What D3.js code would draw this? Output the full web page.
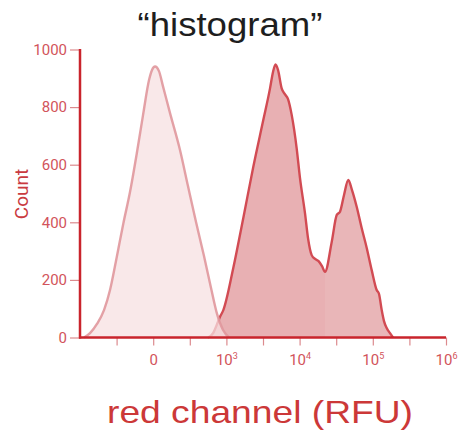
<!DOCTYPE html>
<html>
<head>
<meta charset="utf-8">
<script src="https://cdn.jsdelivr.net/npm/d3@7"></script>
<style>
  html, body { margin: 0; padding: 0; background: #fff; }
  svg { display: block; }
</style>
</head>
<body>
<svg id="chart" width="462" height="438"></svg>
<script>
// Display positions on the biexponential axis (2 = 0, 3 = 10^3, ... 6 = 10^6)
const unstainedPos = [1.055, 1.137, 1.232, 1.328, 1.410, 1.501, 1.592, 1.683, 1.779, 1.861, 1.943, 1.984, 2.025, 2.079, 2.134, 2.230, 2.366, 2.475, 2.585, 2.694, 2.790, 2.872, 2.954, 3.036];
const unstainedCount = [0, 15, 47, 95, 165, 278, 396, 505, 644, 772, 894, 929, 941, 925, 872, 779, 651, 526, 401, 283, 172, 82, 26, 0];

// Stained population, first part (main peak down to the valley)
const stainedPosA = [2.749, 2.821, 2.867, 2.913, 2.958, 3.094, 3.231, 3.367, 3.504, 3.596, 3.637, 3.671, 3.705, 3.755, 3.801, 3.842, 3.892, 3.960, 4.005, 4.074, 4.115, 4.165, 4.210, 4.256, 4.306, 4.347];
const stainedCountA = [0, 16, 43, 72, 95, 241, 415, 592, 755, 865, 922, 948, 929, 865, 844, 828, 773, 657, 554, 431, 345, 286, 273, 266, 248, 228];
// Stained population, second part (valley to the bright peak)
const stainedPosB = [4.347, 4.439, 4.507, 4.552, 4.607, 4.665, 4.716, 4.780, 4.848, 4.917, 4.985, 5.053, 5.085, 5.122, 5.153, 5.190, 5.235, 5.276];
const stainedCountB = [228, 332, 425, 437, 495, 547, 512, 454, 380, 311, 234, 165, 151, 95, 57, 33, 15, 0];

const yTicks = [0, 200, 400, 600, 800, 1000];
const xTicks = [1.5, 2, 2.5, 3, 3.5, 4, 4.5, 5, 5.5, 6];
const xTickLabels = { 2: ["0", ""], 3: ["10", "3"], 4: ["10", "4"], 5: ["10", "5"], 6: ["10", "6"] };

const svg = d3.select("#chart");
const x = d3.scaleLinear().domain([1, 6]).range([80, 446]);
const y = d3.scaleLinear().domain([0, 1000]).range([337.5, 49.5]);

const area = d3.area().x(d => x(d[0])).y0(y(0)).y1(d => y(d[1])).curve(d3.curveMonotoneX);
const line = d3.line().x(d => x(d[0])).y(d => y(d[1])).curve(d3.curveMonotoneX);

const zip = (a, b) => a.map((v, i) => [v, b[i]]);
const unstained = zip(unstainedPos, unstainedCount);
const stainedA = zip(stainedPosA, stainedCountA);
const stainedB = zip(stainedPosB, stainedCountB);

// Stained histogram
svg.append("path").attr("d", area(stainedA)).attr("fill", "#e8b0b3");
svg.append("path").attr("d", area(stainedB)).attr("fill", "#e9b6b8");
svg.append("path").attr("d", line(stainedA.concat(stainedB.slice(1))))
  .attr("fill", "none").attr("stroke", "#d24b53").attr("stroke-width", 2.4)
  .attr("stroke-linejoin", "round");

// Unstained histogram
svg.append("path").attr("d", area(unstained)).attr("fill", "#f7e0e2").attr("fill-opacity", 0.75);
svg.append("path").attr("d", line(unstained))
  .attr("fill", "none").attr("stroke", "#e0979c").attr("stroke-width", 2.4)
  .attr("stroke-opacity", 0.9).attr("stroke-linejoin", "round");

// Y axis
const yAxis = svg.append("g").attr("transform", `translate(${x(1)},0)`)
  .call(d3.axisLeft(y).tickValues(yTicks).tickSize(10).tickPadding(3).tickFormat(d3.format("d")));
yAxis.select(".domain").remove();
yAxis.selectAll(".tick line").attr("stroke", "#dc8a8e").attr("stroke-width", 1.2);
yAxis.selectAll(".tick text").attr("fill", "#d2545b")
  .style("font-family", "Roboto, sans-serif").style("font-size", "15px");

// X axis
const xAxis = svg.append("g").attr("transform", `translate(0,${y(0)})`)
  .call(d3.axisBottom(x).tickValues(xTicks).tickSize(8).tickPadding(8).tickFormat(() => ""));
xAxis.select(".domain").remove();
xAxis.selectAll(".tick line").attr("stroke", "#dc8a8e").attr("stroke-width", 1.2);
xAxis.selectAll(".tick text").each(function(d) {
  const lab = xTickLabels[d];
  if (!lab) return;
  const t = d3.select(this).attr("fill", "#d2545b")
    .style("font-family", "Roboto, sans-serif").style("font-size", "15px")
    .attr("y", 17);
  t.append("tspan").text(lab[0]);
  if (lab[1]) t.append("tspan").attr("dy", -6).style("font-size", "9px").text(lab[1]);
});

// Axis lines
svg.append("line").attr("x1", x(1)).attr("x2", x(1)).attr("y1", y(1000) - 0.5).attr("y2", y(0) + 1)
  .attr("stroke", "#c9242c").attr("stroke-width", 2.5);
svg.append("line").attr("x1", x(1) - 1).attr("x2", x(6)).attr("y1", y(0)).attr("y2", y(0))
  .attr("stroke", "#c9242c").attr("stroke-width", 2.5);

// Titles
svg.append("text").attr("x", 230).attr("y", 36).attr("text-anchor", "middle")
  .attr("fill", "#1e1e1e").style("font-family", "'Liberation Sans', Arial, sans-serif")
  .style("font-size", "33px").attr("textLength", 185).attr("lengthAdjust", "spacingAndGlyphs")
  .text("\u201Chistogram\u201D");

svg.append("text").attr("transform", "translate(28,194) rotate(-90)").attr("text-anchor", "middle")
  .attr("fill", "#c93a40").style("font-family", "Roboto, sans-serif").style("font-size", "19px")
  .text("Count");

svg.append("text").attr("x", 260).attr("y", 423).attr("text-anchor", "middle")
  .attr("fill", "#cc3838").style("font-family", "'Liberation Sans', Arial, sans-serif")
  .style("font-size", "32px").attr("textLength", 306).attr("lengthAdjust", "spacingAndGlyphs")
  .text("red channel (RFU)");
</script>
</body>
</html>
